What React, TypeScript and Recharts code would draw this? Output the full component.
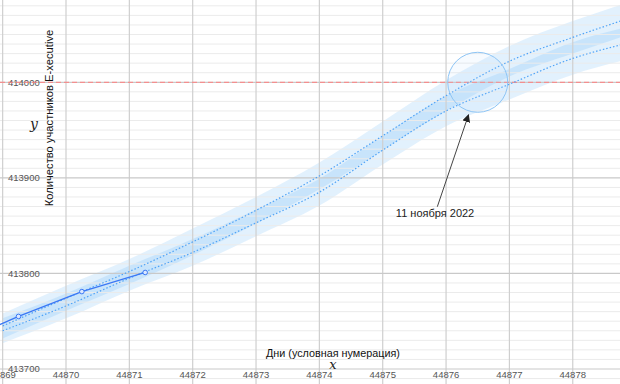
import React from 'react';
import {
  ComposedChart,
  Line,
  Area,
  XAxis,
  YAxis,
  ReferenceLine,
  ReferenceDot,
} from 'recharts';

// observed counts (last days)
const obsDays = [44868.25, 44869.25, 44870.25, 44871.25];
const obsValues = [413726, 413755, 413781, 413801];

// forecast: two dotted trend lines with their bands
const fcDays = [44869, 44870, 44871, 44872, 44873, 44874, 44875, 44876, 44877, 44878, 44878.75];
const upperLine = [413745, 413774, 413802, 413833, 413866, 413902, 413944, 413986, 414022, 414047, 414064];
const lowerLine = [413740, 413766, 413795, 413822, 413853, 413885, 413929, 413970, 413998, 414025, 414039];
const upperBandLo = [413732, 413761, 413789, 413819, 413852, 413888, 413929, 413970, 414006, 414030, 414047];
const upperBandHi = [413758, 413787, 413815, 413847, 413880, 413916, 413959, 414002, 414038, 414064, 414081];
const lowerBandLo = [413727, 413753, 413782, 413808, 413839, 413871, 413914, 413954, 413982, 414008, 414022];
const lowerBandHi = [413753, 413779, 413808, 413836, 413867, 413899, 413944, 413986, 414014, 414042, 414056];

const xTicks = [44869, 44870, 44871, 44872, 44873, 44874, 44875, 44876, 44877, 44878];
const yTicks = [413700, 413800, 413900, 414000];
const target = 414000;

const minorY: number[] = [];
for (let v = 413690; v <= 414080; v += 10) if (v % 100 !== 0) minorY.push(v);

const observed = obsDays.map((x, i) => ({ x, value: obsValues[i] }));
const upperData = fcDays.map((x, i) => ({ x, line: upperLine[i], band: [upperBandLo[i], upperBandHi[i]] }));
const lowerData = fcDays.map((x, i) => ({ x, line: lowerLine[i], band: [lowerBandLo[i], lowerBandHi[i]] }));

const FONT = '"Liberation Sans", Arial, sans-serif';
const SERIF = '"DejaVu Serif", "Liberation Serif", serif';

const xTickLabel = (value: number) => (props: any) => (
  <text x={props.viewBox.x} y={378} textAnchor="middle" fontSize={9.5} fill="#555" fontFamily={FONT}>
    {value}
  </text>
);

const yTickLabel = (value: number) => (props: any) => (
  <text x={8} y={props.viewBox.y} dy="0.35em" textAnchor="start" fontSize={9.5} fill="#555" fontFamily={FONT}>
    {value}
  </text>
);

export default function App() {
  return (
    <div style={{ position: 'absolute', left: 0, top: 0, width: 620, height: 384, background: '#fff' }}>
      <ComposedChart width={620} height={384} margin={{ top: 0, right: 0, bottom: 0, left: 0 }}>
        <XAxis type="number" dataKey="x" domain={[44868.958, 44878.746]} allowDataOverflow hide />
        <YAxis type="number" domain={[413684.3, 414086.1]} allowDataOverflow hide />
        {minorY.map((v) => (
          <ReferenceLine key={'m' + v} y={v} stroke="#ebebeb" strokeWidth={1} />
        ))}
        {xTicks.map((v) => (
          <ReferenceLine key={'x' + v} x={v} stroke="#cfcfcf" strokeWidth={1.2} label={xTickLabel(v)} />
        ))}
        {yTicks.map((v) => (
          <ReferenceLine key={'y' + v} y={v} stroke="#c9c9c9" strokeWidth={1.2} label={yTickLabel(v)} />
        ))}
        <ReferenceLine y={target} stroke="#ff8080" strokeDasharray="5 3" strokeWidth={1} />

        <Area
          data={upperData}
          dataKey="band"
          type="monotone"
          stroke="none"
          fill="#2196f3"
          fillOpacity={0.13}
          dot={false}
          activeDot={false}
          isAnimationActive={false}
        />
        <Area
          data={lowerData}
          dataKey="band"
          type="monotone"
          stroke="none"
          fill="#2196f3"
          fillOpacity={0.13}
          dot={false}
          activeDot={false}
          isAnimationActive={false}
        />
        <Line
          data={upperData}
          dataKey="line"
          type="monotone"
          stroke="#4fa3f7"
          strokeWidth={1.2}
          strokeDasharray="1.5 2"
          dot={false}
          activeDot={false}
          isAnimationActive={false}
        />
        <Line
          data={lowerData}
          dataKey="line"
          type="monotone"
          stroke="#4fa3f7"
          strokeWidth={1.2}
          strokeDasharray="1.5 2"
          dot={false}
          activeDot={false}
          isAnimationActive={false}
        />
        <Line
          data={observed}
          dataKey="value"
          type="linear"
          stroke="#3b78f5"
          strokeWidth={1.3}
          dot={{ r: 2.3, fill: '#dbe8ff', stroke: '#3b78f5', strokeWidth: 1 }}
          activeDot={false}
          isAnimationActive={false}
        />

        <ReferenceDot
          x={44876.5}
          y={target}
          r={30}
          fill="rgba(187,222,251,0.12)"
          stroke="#8ec5f5"
          strokeWidth={1}
        />
        <ReferenceLine
          segment={[
            { x: 44875.862, y: 413869.8 },
            { x: 44876.355, y: 413966 },
          ]}
          stroke="#444"
          strokeWidth={1}
          markerEnd="url(#arrowHead)"
          ifOverflow="visible"
        />
        <ReferenceDot
          x={44875.826}
          y={413863.2}
          r={0}
          fill="none"
          stroke="none"
          label={{ value: '11 ноября 2022', position: 'center', fontSize: 11, fill: '#222', fontFamily: FONT }}
        />
      </ComposedChart>
      <svg width={620} height={384} style={{ position: 'absolute', left: 0, top: 0, pointerEvents: 'none' }}>
        <defs>
          <marker id="arrowHead" viewBox="0 0 10 10" refX="9" refY="5" markerWidth="8" markerHeight="8" orient="auto">
            <path d="M0,0 L10,5 L0,10 z" fill="#222" />
          </marker>
        </defs>
        <text
          transform="translate(50,118) rotate(-90)"
          textAnchor="middle"
          dominantBaseline="middle"
          fontSize={11.2}
          fill="#111"
          fontFamily={FONT}
        >
          Количество участников E-xecutive
        </text>
        <text x={34} y={129} textAnchor="middle" fontSize={14} fontStyle="italic" fill="#222" fontFamily={SERIF}>
          y
        </text>
        <text x={333} y={357} textAnchor="middle" fontSize={10.8} fill="#111" fontFamily={FONT}>
          Дни (условная нумерация)
        </text>
        <text x={333} y={369} textAnchor="middle" fontSize={13} fontStyle="italic" fill="#222" fontFamily={SERIF}>
          x
        </text>
      </svg>
    </div>
  );
}
